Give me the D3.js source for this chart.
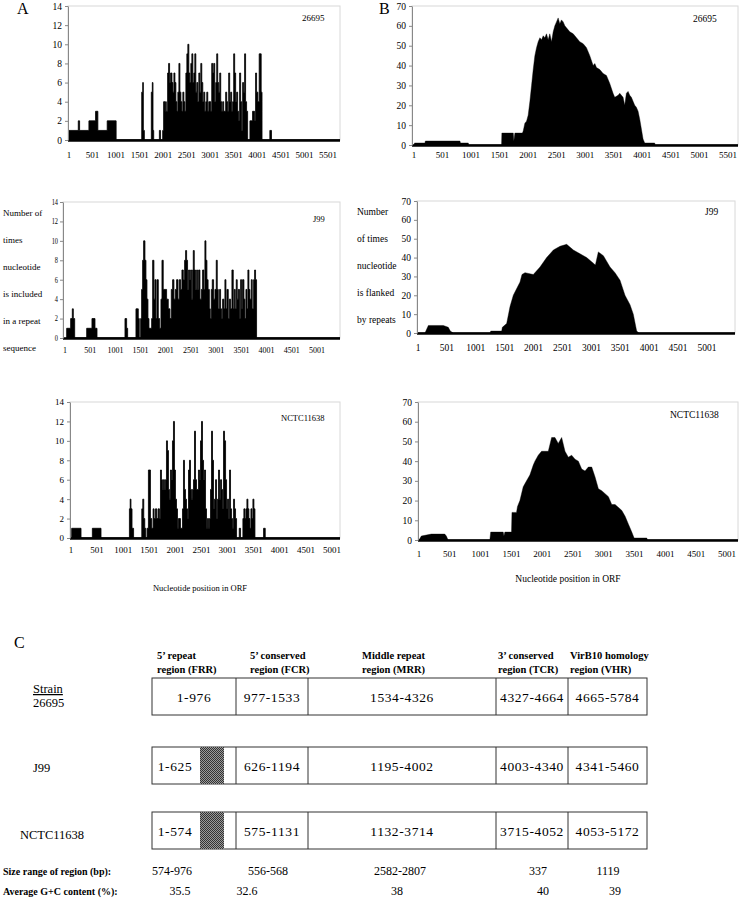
<!DOCTYPE html>
<html><head><meta charset="utf-8">
<script src="https://cdn.jsdelivr.net/npm/d3@7"></script>
<style>
body{margin:0;background:#fff}
svg{display:block}
text{font-family:"Liberation Serif","Times New Roman",serif;fill:#000}
</style>
</head><body>
<svg id="c" width="739" height="899"></svg>
<script>
// ---------- DATA ----------
// Panel A: number of times a nucleotide is included in a repeat (step: [position, value])
const repeats26695 = [[1,1],[198,2],[226,1],[424,2],[565,3],[614,1],[812,2],[1002,0],
 [1545,5],[1566,6],[1580,1],[1601,0],[1749,5],[1770,6],[1785,1],[1800,0],[1920,1],[1945,0],
 [1990,1],[2010,4],[2038,3],[2052,4],[2067,3],[2095,7],[2116,8],[2137,6],[2158,7],[2187,6],[2208,5],[2229,7],
 [2250,6],[2271,4],[2292,3],[2313,5],[2335,8],[2356,5],[2377,4],[2398,3],[2419,5],[2440,4],[2461,3],[2483,7],
 [2504,9],[2525,10],[2546,7],[2567,6],[2588,8],[2610,9],[2631,6],[2652,7],[2673,9],[2694,5],[2715,6],[2736,4],
 [2758,7],[2779,5],[2800,8],[2821,6],[2842,4],[2863,5],[2884,3],[2906,4],[2927,5],[2948,3],[2969,4],[3011,3],
 [3032,8],[3054,7],[3075,8],[3096,4],[3117,6],[3138,9],[3159,6],[3180,5],[3202,7],[3223,4],[3244,3],[3265,4],
 [3286,3],[3328,5],[3350,4],[3371,3],[3392,7],[3413,4],[3434,5],[3455,3],[3476,4],[3498,9],[3519,7],[3540,4],
 [3561,5],[3582,3],[3603,2],[3624,7],[3646,4],[3667,1],[3688,6],[3709,5],[3730,9],[3751,4],[3772,3],[3794,0],
 [3843,2],[3899,3],[3942,2],[3963,7],[3984,5],[4012,4],[4040,9],[4082,5],[4100,0],[4266,1],[4301,0]];
const repeatsJ99 = [[34,1],[113,2],[146,3],[166,2],[193,0],[431,1],[536,2],[596,1],[636,0],
 [1191,2],[1224,1],[1244,0],[1409,3],[1455,2],[1475,0],
 [1502,2],[1521,5],[1541,8],[1561,10],[1587,8],[1607,6],[1627,4],[1647,2],[1667,1],[1693,1],[1720,2],[1740,8],
 [1765,4],[1785,6],[1805,2],[1825,6],[1852,2],[1878,1],[1905,4],[1925,8],[1950,5],[2017,4],[2050,3],[2083,2],
 [2110,5],[2136,6],[2162,4],[2189,5],[2215,6],[2242,4],[2268,6],[2295,5],[2321,7],[2348,6],[2374,8],[2394,9],
 [2414,8],[2433,5],[2453,7],[2473,6],[2493,7],[2513,4],[2533,7],[2546,9],[2566,7],[2590,5],[2612,7],[2632,5],
 [2652,7],[2678,4],[2705,5],[2731,7],[2757,5],[2777,10],[2797,8],[2817,6],[2840,5],[2865,3],[2883,2],[2903,5],
 [2923,6],[2949,4],[2976,5],[3002,8],[3022,5],[3042,3],[3068,5],[3088,3],[3108,2],[3128,4],[3154,3],[3174,6],
 [3194,3],[3214,5],[3240,2],[3260,4],[3286,3],[3313,7],[3339,3],[3359,5],[3379,3],[3399,6],[3418,4],[3438,5],
 [3465,2],[3485,6],[3505,3],[3524,6],[3551,4],[3571,2],[3591,5],[3611,3],[3630,7],[3650,5],[3670,4],[3697,6],
 [3716,3],[3743,6],[3763,7],[3782,6],[3802,0]];
const repeatsNCTC = [[14,1],[193,0],[410,1],[576,0],[1120,3],[1135,4],[1150,3],[1170,1],[1200,0],
 [1357,3],[1376,4],[1395,2],[1414,1],[1433,0],[1459,1],[1484,7],[1523,2],[1548,1],[1574,3],[1593,2],[1619,3],
 [1644,2],[1670,3],[1695,2],[1715,7],[1734,6],[1753,5],[1772,6],[1791,5],[1810,6],[1830,10],[1849,9],[1868,5],
 [1887,4],[1906,7],[1926,6],[1945,10],[1964,12],[1983,7],[2002,4],[2022,3],[2041,1],[2060,2],[2098,1],[2137,3],
 [2156,8],[2175,5],[2194,4],[2213,3],[2233,2],[2252,7],[2271,8],[2290,5],[2309,4],[2329,5],[2348,6],[2367,11],
 [2386,6],[2405,5],[2443,7],[2463,6],[2482,10],[2501,12],[2520,8],[2540,6],[2559,7],[2578,3],[2597,1],[2616,2],
 [2635,1],[2654,2],[2674,5],[2693,11],[2712,8],[2731,3],[2750,4],[2770,6],[2789,2],[2808,4],[2827,7],[2846,4],
 [2866,6],[2885,5],[2904,3],[2923,11],[2942,10],[2962,6],[2981,3],[3000,4],[3019,2],[3038,7],[3057,3],[3077,2],
 [3096,1],[3115,4],[3134,3],[3153,2],[3173,0],[3224,1],[3249,0],[3294,2],[3313,3],[3333,2],[3352,3],[3371,4],
 [3390,3],[3409,2],[3429,1],[3448,3],[3467,2],[3486,4],[3505,3],[3525,0],[3690,1],[3722,0]];

// Panel B: number of times a nucleotide is flanked by repeats ([position, value])
const flanked26695 = [[1,0],[10,1],[193,1],[200,2],[806,2],[815,1],[952,1],[960,0],[1535,0],[1540,6],[1740,6],
 [1750,2],[1768,6],[1900,6],[1914,7],[1943,11],[1972,12],[2001,15],[2031,22],[2060,30],[2089,38],[2118,45],
 [2147,49],[2176,52],[2206,54],[2235,53],[2264,55],[2293,54],[2322,56],[2351,53],[2380,56],[2410,52],[2439,57],
 [2468,60],[2497,62],[2526,64],[2555,61],[2584,63],[2614,62],[2643,60],[2672,59],[2701,58],[2730,57],[2789,56],
 [2847,54],[2905,52],[2964,51],[3022,49],[3080,45],[3139,40],[3168,41],[3197,39],[3255,38],[3313,36],[3372,35],
 [3430,31],[3488,26],[3517,24],[3576,25],[3605,26],[3634,25],[3663,24],[3692,20],[3721,26],[3751,27],[3780,25],
 [3809,24],[3838,22],[3867,20],[3896,19],[3926,17],[3955,13],[3984,8],[4013,3],[4042,1],[4217,1],[4225,0]];
const flankedJ99 = [[1,0],[122,0],[180,4],[439,4],[525,3],[560,1],[612,0],[1247,0],[1260,1],[1449,1],[1460,3],
 [1535,5],[1593,14],[1650,20],[1766,27],[1800,31],[1852,32],[1996,31],[2112,35],[2227,40],[2343,44],[2458,46],
 [2573,47],[2689,44],[2804,42],[2919,40],[3035,37],[3070,36],[3121,43],[3208,41],[3323,35],[3409,32],[3496,28],
 [3582,20],[3669,15],[3726,10],[3784,1],[3824,0]];
const flankedNCTC = [[1,0],[39,2],[202,3],[419,3],[445,2],[473,0],[1151,0],[1165,4],[1368,4],[1380,2],[1395,4],
 [1503,4],[1510,14],[1584,14],[1600,17],[1639,20],[1693,27],[1747,30],[1801,33],[1856,38],[1883,40],[1937,43],
 [1991,45],[2100,45],[2154,52],[2208,52],[2262,49],[2317,52],[2371,45],[2425,42],[2479,43],[2534,41],[2588,40],
 [2642,36],[2696,35],[2750,37],[2805,37],[2859,32],[2913,26],[2967,25],[3076,22],[3130,18],[3184,18],[3293,15],
 [3347,12],[3401,8],[3455,4],[3493,1],[3699,1],[3710,0]];

const xTicks26695 = [1,501,1001,1501,2001,2501,3001,3501,4001,4501,5001,5501];
const xTicksShort = [1,501,1001,1501,2001,2501,3001,3501,4001,4501,5001];
const yTicksA = [0,2,4,6,8,10,12,14];
const yTicksB = [0,10,20,30,40,50,60,70];
const yTitleA = ["Number of","times","nucleotide","is included","in a repeat","sequence"];
const yTitleB = ["Number","of times","nucleotide","is flanked","by repeats"];
const xTitle = "Nucleotide position in ORF";

// Panel C table
const regionHeaders = [["5\u2019 repeat","region (FRR)"],["5\u2019 conserved","region (FCR)"],
 ["Middle repeat","region (MRR)"],["3\u2019 conserved","region (TCR)"],["VirB10 homology","region (VHR)"]];
const strains = ["26695","J99","NCTC11638"];
const regionRanges = [["1-976","977-1533","1534-4326","4327-4664","4665-5784"],
 ["1-625","626-1194","1195-4002","4003-4340","4341-5460"],
 ["1-574","575-1131","1132-3714","3715-4052","4053-5172"]];
const sizeRange = ["574-976","556-568","2582-2807","337","1119"];
const gcContent = ["35.5","32.6","38","40","39"];

// ---------- DRAW ----------
const svg = d3.select("#c");
const defs = svg.append("defs");
const pat = defs.append("pattern").attr("id","hatch").attr("width",2).attr("height",2).attr("patternUnits","userSpaceOnUse");
pat.append("rect").attr("width",2).attr("height",2).attr("fill","#9a9a9a");
pat.append("rect").attr("width",1).attr("height",1).attr("fill","#333");
pat.append("rect").attr("x",1).attr("y",1).attr("width",1).attr("height",1).attr("fill","#333");

function panel(o){
  const g = svg.append("g");
  const lastTick = o.xticks[o.xticks.length-1];
  const x = d3.scaleLinear().domain([1,lastTick]).range([o.px1,o.pxLast]);
  const y = d3.scaleLinear().domain([0,o.yMax]).range([o.yBot,o.yTop]);
  g.append("rect").attr("x",o.left).attr("y",o.yTop).attr("width",o.right-o.left).attr("height",o.yBot-o.yTop)
   .attr("fill","none").attr("stroke","#d8d8d8").attr("stroke-width",1);
  const endPos = x.invert(o.right);
  const pts = o.data.concat([[endPos,0]]);
  const area = d3.area().x(d=>Math.min(x(d[0]),o.right)).y0(y(0)).y1(d=>y(d[1]))
    .curve(o.step?d3.curveStepAfter:d3.curveLinear);
  g.append("path").datum(pts).attr("d",area).attr("fill","#000").attr("stroke","#000").attr("stroke-width",o.step?0.8:0.4);
  g.append("line").attr("x1",o.left).attr("x2",o.right).attr("y1",y(0)+0.5).attr("y2",y(0)+0.5)
   .attr("stroke","#000").attr("stroke-width",2.6);
  const ya = g.append("g").attr("transform",`translate(${o.left},0)`)
    .call(d3.axisLeft(y).tickValues(o.yticks).tickSize(3).tickSizeOuter(0).tickPadding(3));
  ya.select(".domain").attr("stroke","#888");
  ya.selectAll(".tick line").attr("stroke","#888");
  ya.selectAll(".tick text").style("font-family","'Liberation Serif',serif").style("font-size",o.yfs+"px")
    .attr("fill","#000");
  if(o.yCondense) ya.selectAll(".tick text").attr("transform","scale(0.85,1)").attr("x",-5/0.85);
  g.selectAll(".xl").data(o.xticks).enter().append("text")
   .attr("x",d=>x(d)).attr("y",o.xLabY).attr("text-anchor","middle").style("font-size",o.xfs+"px").text(d=>d);
  g.append("text").attr("x",o.lblX).attr("y",o.lblY).style("font-size",o.lfs+"px").text(o.label);
}

panel({data:repeats26695,step:true,xticks:xTicks26695,px1:69,pxLast:328,left:68,right:340,yTop:6,yBot:140,yMax:14,yticks:yTicksA,yfs:9.5,xfs:9,xLabY:158,label:"26695",lblX:302,lblY:21,lfs:9});
panel({data:flanked26695,step:false,xticks:xTicks26695,px1:414,pxLast:728,left:412,right:738,yTop:6,yBot:145,yMax:70,yticks:yTicksB,yfs:9.5,xfs:9,xLabY:158,label:"26695",lblX:693,lblY:22,lfs:9.5});
panel({data:repeatsJ99,step:true,xticks:xTicksShort,px1:65,pxLast:317,left:63,right:340,yTop:202,yBot:338,yMax:14,yticks:yTicksA,yfs:7.5,yCondense:true,xfs:8,xLabY:353,label:"J99",lblX:313,lblY:222,lfs:8.5});
panel({data:flankedJ99,step:false,xticks:xTicksShort,px1:418,pxLast:707,left:417,right:735,yTop:201,yBot:333,yMax:70,yticks:yTicksB,yfs:9.5,xfs:9.5,xLabY:351,label:"J99",lblX:705,lblY:215,lfs:9.5});
panel({data:repeatsNCTC,step:true,xticks:xTicksShort,px1:71,pxLast:332,left:70,right:340,yTop:402,yBot:538,yMax:14,yticks:yTicksA,yfs:9,xfs:9,xLabY:553,label:"NCTC11638",lblX:281,lblY:421,lfs:8.5});
panel({data:flankedNCTC,step:false,xticks:xTicksShort,px1:419,pxLast:727,left:418,right:738,yTop:402,yBot:540,yMax:70,yticks:yTicksB,yfs:9.5,xfs:9,xLabY:557,label:"NCTC11638",lblX:670,lblY:418,lfs:9.5});

svg.append("text").attr("x",17).attr("y",14).style("font-size","16px").text("A");
svg.append("text").attr("x",379).attr("y",14).style("font-size","16px").text("B");
svg.append("text").attr("x",14).attr("y",648).style("font-size","16px").text("C");

svg.selectAll(".yta").data(yTitleA).enter().append("text")
  .attr("x",3).attr("y",(d,i)=>216+i*27).style("font-size","9px").text(d=>d);
svg.selectAll(".ytb").data(yTitleB).enter().append("text")
  .attr("x",357).attr("y",(d,i)=>215+i*27).style("font-size","9.5px").text(d=>d);
svg.append("text").attr("x",200).attr("y",591).attr("text-anchor","middle").style("font-size","8.5px").text(xTitle);
svg.append("text").attr("x",568).attr("y",582).attr("text-anchor","middle").style("font-size","9.5px").text(xTitle);

// ---------- Panel C ----------
const colEdges = [152,236,308,496,568,647];
const rowTops = [678,747,812];
const rowH = 37;
const headerX = [157,250,362,498,570];
const gc = svg.append("g");
regionHeaders.forEach((h,i)=>{
  h.forEach((line,j)=>{
    gc.append("text").attr("x",headerX[i]).attr("y",659+j*14).style("font-size","10.5px").style("font-weight","bold").text(line);
  });
});
strains.forEach((s,r)=>{
  const top = rowTops[r];
  gc.append("rect").attr("x",colEdges[0]).attr("y",top).attr("width",colEdges[5]-colEdges[0]).attr("height",rowH)
    .attr("fill","#fff").attr("stroke","#333").attr("stroke-width",1);
  if(r>0){
    gc.append("rect").attr("x",200).attr("y",top).attr("width",24).attr("height",rowH).attr("fill","url(#hatch)");
  }
  for(let k=1;k<5;k++){
    gc.append("line").attr("x1",colEdges[k]).attr("x2",colEdges[k]).attr("y1",top).attr("y2",top+rowH)
      .attr("stroke","#333").attr("stroke-width",1);
  }
  regionRanges[r].forEach((t,k)=>{
    let cx = (colEdges[k]+colEdges[k+1])/2;
    if(k===0 && r>0) cx = 175;
    gc.append("text").attr("x",cx).attr("y",top+rowH/2+5).attr("text-anchor","middle")
      .style("font-size","13.5px").style("letter-spacing","0.6px").text(t);
  });
});
gc.append("text").attr("x",33).attr("y",693).style("font-size","12.5px").style("text-decoration","underline").text("Strain");
gc.append("text").attr("x",33).attr("y",707).style("font-size","12.5px").text(strains[0]);
gc.append("text").attr("x",33).attr("y",772).style("font-size","12.5px").text(strains[1]);
gc.append("text").attr("x",20).attr("y",839).style("font-size","12.5px").text(strains[2]);

const sizeX = [172,268,400,538,608];
const gcX = [180,247,397,543,615];
gc.append("text").attr("x",3).attr("y",875).style("font-size","10px").style("font-weight","bold").text("Size range of region (bp):");
gc.append("text").attr("x",3).attr("y",895).style("font-size","10px").style("font-weight","bold").text("Average G+C content (%):");
sizeRange.forEach((t,k)=>gc.append("text").attr("x",sizeX[k]).attr("y",875).attr("text-anchor","middle").style("font-size","12px").text(t));
gcContent.forEach((t,k)=>gc.append("text").attr("x",gcX[k]).attr("y",895).attr("text-anchor","middle").style("font-size","12px").text(t));
</script>
</body></html>
